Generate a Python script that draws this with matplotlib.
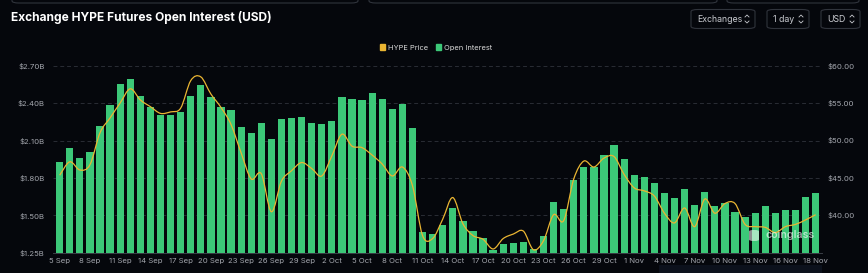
import matplotlib
matplotlib.use("Agg")
import matplotlib.pyplot as plt
from matplotlib.path import Path
from matplotlib.patches import PathPatch, Patch, FancyBboxPatch, Rectangle

# daily open interest (billion USD), 5 Sep -> 18 Nov
open_interest = [
    1.924, 2.039, 1.962, 2.010, 2.218, 2.386, 2.556, 2.591, 2.458, 2.372, 2.306, 2.303, 2.332, 2.458,
    2.543, 2.450, 2.367, 2.343, 2.210, 2.162, 2.239, 2.114, 2.271, 2.282, 2.290, 2.244, 2.234, 2.258,
    2.450, 2.431, 2.423, 2.479, 2.431, 2.356, 2.396, 2.199, 1.364, 1.354, 1.423, 1.562, 1.452, 1.375, 1.316,
    1.220, 1.268, 1.274, 1.287, 1.231, 1.332, 1.607, 1.548, 1.783, 1.884, 1.890, 1.983, 2.066, 1.948, 1.826,
    1.804, 1.759, 1.676, 1.636, 1.714, 1.583, 1.687, 1.578, 1.596, 1.530, 1.484, 1.522, 1.575, 1.516, 1.543,
    1.546, 1.644, 1.679,
]
# HYPE price (USD)
hype_price = [
    45.3, 47.1, 46.0, 46.7, 51.0, 53.0, 55.0, 56.9, 55.4, 54.5, 53.6, 53.8, 54.3,
    58.0, 58.5, 56.2, 54.4, 52.1, 48.3, 44.8, 45.5, 40.4, 44.5, 45.9, 47.0, 46.2, 45.2, 47.9,
    50.8, 49.2, 49.0, 48.0, 46.8, 45.2, 46.4, 43.9, 37.2, 36.8, 39.4, 42.3, 38.8, 37.2, 36.7,
    35.4, 36.8, 37.4, 37.8, 35.3, 36.5, 40.0, 39.2, 44.8, 47.2, 46.4, 47.6, 47.8, 45.4, 43.6,
    43.2, 42.5, 40.2, 38.9, 40.9, 38.4, 42.1, 40.2, 41.5, 41.5, 38.7, 38.4, 38.3, 37.6, 38.4,
    38.7, 39.3, 40.0,
]
date_labels = ["5 Sep", "8 Sep", "11 Sep", "14 Sep", "17 Sep", "20 Sep", "23 Sep", "26 Sep", "29 Sep",
               "2 Oct", "5 Oct", "8 Oct", "11 Oct", "14 Oct", "17 Oct", "20 Oct", "23 Oct", "26 Oct",
               "29 Oct", "1 Nov", "4 Nov", "7 Nov", "10 Nov", "13 Nov", "16 Nov", "18 Nov"]
oi_ticks = [1.20, 1.50, 1.80, 2.10, 2.40, 2.70]
oi_tick_labels = ["$1.25B", "$1.50B", "$1.80B", "$2.10B", "$2.40B", "$2.70B"]
price_ticks = [40, 45, 50, 55, 60]

BG = "#05070c"
GREEN = "#3cc878"
GOLD = "#eab532"
GRID = "#2a2d35"
TXT = "#a3a6ad"
FONT = "Inter"

W, H = 868, 273
plt.rcParams["font.family"] = [FONT, "DejaVu Sans"]


def fx(x):
    return x / W


def fy(y):
    return 1 - y / H


def smooth_path(xs, ys):
    """Catmull-Rom style cubic path through the points"""
    n = len(xs)
    verts = [(xs[0], ys[0])]
    codes = [Path.MOVETO]
    for i in range(n - 1):
        i0, i3 = max(i - 1, 0), min(i + 2, n - 1)
        c1 = (xs[i] + (xs[i + 1] - xs[i0]) / 6, ys[i] + (ys[i + 1] - ys[i0]) / 6)
        c2 = (xs[i + 1] - (xs[i3] - xs[i]) / 6, ys[i + 1] - (ys[i3] - ys[i]) / 6)
        verts += [c1, c2, (xs[i + 1], ys[i + 1])]
        codes += [Path.CURVE4] * 3
    return Path(verts, codes)


fig = plt.figure(figsize=(W / 100, H / 100), dpi=100, facecolor=BG)
ax = fig.add_axes([fx(53), fy(252.7), fx(822 - 53), (252.7 - 65.7) / H])
ax.set_facecolor(BG)

x = list(range(len(open_interest)))
ax.bar(x, [v - oi_ticks[0] for v in open_interest], bottom=oi_ticks[0], width=0.72,
       color=GREEN, zorder=2)
ax.set_xlim(-0.665, 75.63)
ax.set_ylim(oi_ticks[0], oi_ticks[-1])
ax.set_yticks(oi_ticks)
ax.set_yticklabels(oi_tick_labels)
for v in oi_ticks[1:]:
    ax.axhline(v, color=GRID, lw=0.7, ls=(0, (4, 3)), zorder=1)

xt = list(range(0, 73, 3)) + [len(x) - 1]
ax.set_xticks(xt)
ax.set_xticklabels(date_labels)
ax.tick_params(axis="x", length=0, pad=4, labelsize=5.6, labelcolor=TXT)
ax.tick_params(axis="y", length=0, pad=6, labelsize=5.6, labelcolor=TXT)
for s in ["top", "left", "right"]:
    ax.spines[s].set_visible(False)
ax.spines["bottom"].set_color("#3a3e46")
ax.spines["bottom"].set_linewidth(0.7)

ax2 = ax.twinx()
ax2.set_ylim(34.9, 60)
ax2.set_yticks(price_ticks)
ax2.set_yticklabels([f"${v:.2f}" for v in price_ticks])
ax2.tick_params(axis="y", length=0, pad=4, labelsize=5.6, labelcolor=TXT)
for s in ax2.spines.values():
    s.set_visible(False)
ax2.add_patch(PathPatch(smooth_path(x, hype_price), fill=False, edgecolor=GOLD, lw=0.9, zorder=3))

# title and legend
fig.text(fx(11), fy(17.5), "Exchange HYPE Futures Open Interest (USD)", color="white",
         fontsize=8.6, fontweight="bold", va="center", ha="left")
fig.legend(handles=[Patch(color=GOLD, label="HYPE Price"), Patch(color=GREEN, label="Open Interest")],
           loc="center", bbox_to_anchor=(fx(436), fy(47.5)), ncol=2, frameon=False,
           fontsize=5.4, labelcolor="#d8d8d8", handlelength=0.7, handleheight=0.7,
           handletextpad=0.4, columnspacing=1.0)

# watermark: small logo block + name
fig.patches.append(FancyBboxPatch((fx(749), fy(241)), fx(10), 11 / H,
                                  boxstyle="round,pad=0,rounding_size=0.005",
                                  transform=fig.transFigure, facecolor="white",
                                  edgecolor="none", alpha=0.55))
fig.text(fx(765), fy(235), "coinglass", color="white", alpha=0.62, fontsize=7.6,
         fontweight="semibold", va="center", ha="left")

# selector boxes top right
boxes = [(691, 755, "Exchanges"), (767, 809, "1 day"), (821, 860, "USD")]
for x0, x1, label in boxes:
    fig.patches.append(FancyBboxPatch((fx(x0), fy(28.5)), fx(x1 - x0), (28.5 - 9.5) / H,
                                      boxstyle="round,pad=0,rounding_size=0.008",
                                      transform=fig.transFigure, facecolor=BG,
                                      edgecolor="#30343c", lw=0.8))
    fig.text(fx(x0 + 6), fy(19), label, color="#c9cbd0", fontsize=6.3, va="center", ha="left")
    cx = x1 - 8
    fig.lines.append(plt.Line2D([fx(cx - 2), fx(cx), fx(cx + 2)], [fy(17), fy(15), fy(17)],
                                transform=fig.transFigure, color="#c9cbd0", lw=0.6))
    fig.lines.append(plt.Line2D([fx(cx - 2), fx(cx), fx(cx + 2)], [fy(21), fy(23), fy(21)],
                                transform=fig.transFigure, color="#c9cbd0", lw=0.6))

# cut-off panels at the very top
for x0, x1 in [(12, 358), (369, 717), (727, 859)]:
    fig.patches.append(FancyBboxPatch((fx(x0), fy(3)), fx(x1 - x0), 10 / H,
                                      boxstyle="round,pad=0,rounding_size=0.008",
                                      transform=fig.transFigure, facecolor=BG,
                                      edgecolor="#30343c", lw=0.8))
# panel peeking at the bottom
fig.patches.append(Rectangle((fx(659), 0), fx(822 - 659), 8 / H, transform=fig.transFigure,
                             facecolor="#0c111c", edgecolor="none"))

fig.savefig("out.png", dpi=100, facecolor=BG)
